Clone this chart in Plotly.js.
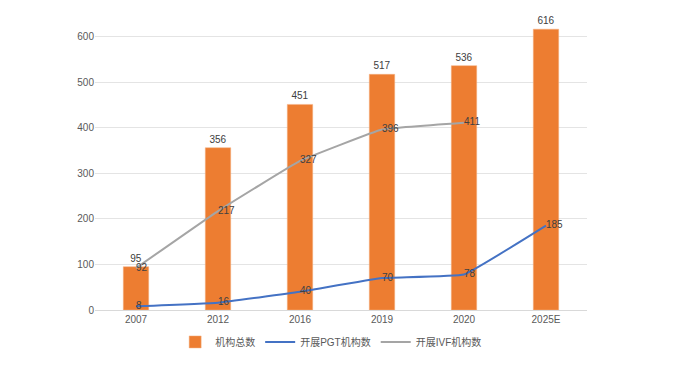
<!DOCTYPE html>
<html><head><meta charset="utf-8">
<script src="https://cdn.plot.ly/plotly-3.0.1.min.js"></script>
<style>body{margin:0}#c{width:680px;height:367px}</style>
</head><body><div id="c"></div>
<script>
const categories = ["2007","2012","2016","2019","2020","2025E"];
const totalInst = [95,356,451,517,536,616];
const pgtInst = [8,16,40,70,78,185];
const ivfCats = ["2007","2012","2016","2019","2020"];
const ivfInst = [92,217,327,396,411];
const yTicks = [0,100,200,300,400,500,600];

const font = {family:"'Liberation Sans', 'Noto Sans CJK SC', sans-serif", size:10, color:"#595959"};
const traces = [
  {type:"bar", name:"机构总数", x:categories, y:totalInst, width:0.31,
   marker:{color:"#ED7D31", line:{color:"#F4B183", width:0.5}},
   text:totalInst.map(String), textposition:"outside", cliponaxis:false,
   textfont:{size:10, color:"#404040"}},
  {type:"scatter", mode:"lines+text", name:"开展PGT机构数", x:categories, y:pgtInst,
   line:{color:"#4472C4", width:2, shape:"spline", smoothing:0.25},
   text:pgtInst.map(String), textposition:"middle right", textfont:{size:10, color:"#404040"}},
  {type:"scatter", mode:"lines+text", name:"开展IVF机构数", x:ivfCats, y:ivfInst,
   line:{color:"#A5A5A5", width:2, shape:"spline", smoothing:0.25},
   text:ivfInst.map(String), textposition:"middle right", textfont:{size:10, color:"#404040"}}
];
const layout = {
  width:680, height:367, margin:{l:95, r:93, t:0, b:57},
  paper_bgcolor:"#fff", plot_bgcolor:"#fff", font:font, showlegend:true,
  bargap:0.6,
  xaxis:{type:"category", categoryorder:"array", categoryarray:categories,
         showgrid:false, showline:true, linecolor:"#D9D9D9", linewidth:1, ticks:"", tickfont:{size:10, color:"#595959"}},
  yaxis:{range:[0,680], tickvals:yTicks, ticktext:yTicks.map(String), showgrid:true, gridcolor:"#E4E4E4",
         zeroline:false, showline:false, ticks:"", ticklen:0, tickfont:{size:10, color:"#595959"}},
  legend:{orientation:"h", x:0.48, xanchor:"center", y:-0.103, yanchor:"middle",
          font:{size:10, color:"#595959"}, traceorder:"normal", itemwidth:30}
};
Plotly.newPlot("c", traces, layout, {displayModeBar:false});
</script></body></html>
